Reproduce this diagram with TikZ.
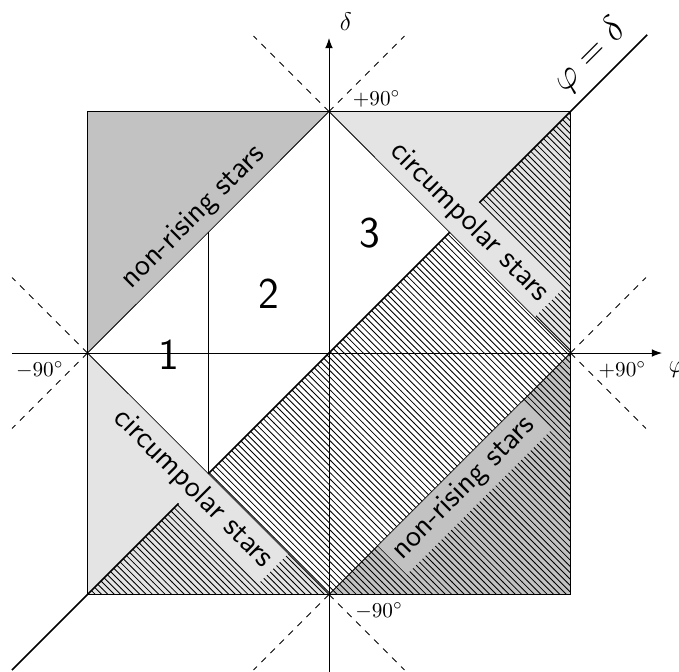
\documentclass[tikz,border=0pt]{standalone}
\usetikzlibrary{patterns,arrows.meta,calc}
\definecolor{darkreg}{gray}{0.76}
\definecolor{lightreg}{gray}{0.895}
\begin{document}
\begin{tikzpicture}[
  lab/.style={font=\sffamily\Large, inner sep=3.33pt},
  num/.style={font=\sffamily\huge},
  deg/.style={font=\normalsize},
  ext/.style={dashed},
  border/.style={line width=0.5pt}
]
\useasboundingbox (-5.449,-5.267) rectangle (5.797,5.847);
\coordinate (O) at (0,0);
\coordinate (T) at (0,4);
\coordinate (B) at (0,-4);
\coordinate (L) at (-4,0);
\coordinate (R) at (4,0);
\coordinate (TL) at (-4,4);
\coordinate (TR) at (4,4);
\coordinate (BL) at (-4,-4);
\coordinate (BR) at (4,-4);
% regions
\fill[darkreg] (L) -- (TL) -- (T) -- cycle;
\fill[lightreg] (T) -- (TR) -- (R) -- cycle;
\fill[lightreg] (L) -- (BL) -- (B) -- cycle;
\fill[darkreg] (B) -- (BR) -- (R) -- cycle;
\fill[pattern=north west lines] (BL) -- (TR) -- (BR) -- cycle;
% square and diamond
\draw[border] (TL) rectangle (BR);
\draw (L) -- (T) -- (R) -- (B) -- cycle;
\draw (-2,2) -- (-2,-2);
% dashed extensions
\draw[ext] (T) -- ++(-1.25,1.25);
\draw[ext] (T) -- ++(1.25,1.25);
\draw[ext] (L) -- ++(-1.25,1.25);
\draw[ext] (L) -- ++(-1.25,-1.25);
\draw[ext] (R) -- ++(1.25,1.25);
\draw[ext] (R) -- ++(1.25,-1.25);
\draw[ext] (B) -- ++(-1.25,-1.25);
\draw[ext] (B) -- ++(1.25,-1.25);
% axes
\draw[-{Latex}] (-5.25,0) -- (5.515,0);
\draw[-{Latex}] (0,-5.4) -- (0,5.217);
% diagonal
\draw[thick] (-5.25,-5.25) -- (5.27,5.27);
% labels
\node[lab, fill=darkreg, rotate=45, anchor=south] (nrTL) at ($(L)!0.5!(T)$) {non-rising stars};
\node[lab, fill=lightreg, rotate=-45, anchor=south] (cpTR) at ($(T)!0.52!(R)$) {circumpolar stars};
\node[lab, fill=lightreg, rotate=-45, anchor=north] (cpBL) at ($(L)!0.5!(B)$) {circumpolar stars};
\node[lab, fill=darkreg, rotate=45, anchor=north] (nrBR) at ($(B)!0.5!(R)$) {non-rising stars};
\node[num] (n1) at (-2.65,-0.03) {1};
\node[num] (n2) at (-1.0,0.99) {2};
\node[num] (n3) at (0.68,1.99) {3};
\node[deg] (dT) at (0.79,4.21) {$+90^\circ$};
\node[deg] (dL) at (-4.79,-0.28) {$-90^\circ$};
\node[deg] (dR) at (4.86,-0.28) {$+90^\circ$};
\node[deg] (dB) at (0.83,-4.27) {$-90^\circ$};
\node[font=\large] (delta) at (0.28,5.48) {$\delta$};
\node[font=\large] (phi) at (5.76,-0.28) {$\varphi$};
\node[font=\LARGE, rotate=45] (eq) at (4.32,4.92) {$\varphi=\delta$};
\end{tikzpicture}
\end{document}
